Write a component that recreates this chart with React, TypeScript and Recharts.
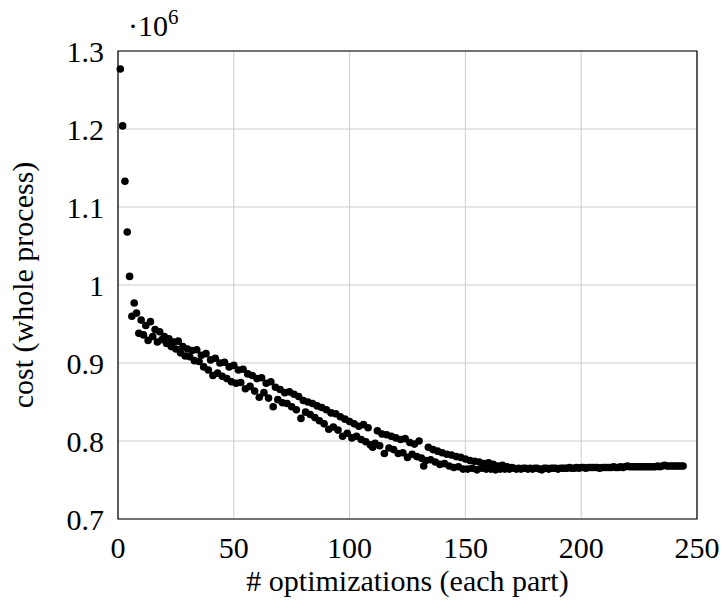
import { ScatterChart, Scatter, XAxis, YAxis, CartesianGrid, ReferenceArea } from 'recharts'

// cost of the whole process, in units of 10^6, for x = 1, 2, 3, ...
const costs: number[] = [
  1.277, 1.204, 1.133, 1.068, 1.011, 0.960, 0.977, 0.964, 0.938, 0.955,
  0.936, 0.948, 0.929, 0.953, 0.934, 0.943, 0.927, 0.940, 0.930, 0.934,
  0.925, 0.931, 0.921, 0.927, 0.918, 0.928, 0.913, 0.921, 0.909, 0.918,
  0.908, 0.916, 0.903, 0.917, 0.902, 0.910, 0.895, 0.912, 0.891, 0.904,
  0.884, 0.906, 0.887, 0.900, 0.883, 0.901, 0.880, 0.895, 0.876, 0.897,
  0.874, 0.891, 0.875, 0.892, 0.867, 0.886, 0.870, 0.884, 0.864, 0.880,
  0.856, 0.881, 0.862, 0.874, 0.855, 0.876, 0.844, 0.869, 0.853, 0.866,
  0.849, 0.862, 0.848, 0.863, 0.844, 0.860, 0.840, 0.857, 0.829, 0.852,
  0.837, 0.850, 0.834, 0.848, 0.830, 0.845, 0.826, 0.843, 0.822, 0.840,
  0.815, 0.836, 0.818, 0.835, 0.814, 0.831, 0.806, 0.828, 0.810, 0.825,
  0.804, 0.822, 0.806, 0.819, 0.802, 0.821, 0.799, 0.817, 0.795, 0.792,
  0.797, 0.813, 0.794, 0.809, 0.784, 0.808, 0.791, 0.806, 0.789, 0.804,
  0.784, 0.802, 0.785, 0.803, 0.779, 0.798, 0.783, 0.796, 0.780, 0.800,
  0.778, 0.768, 0.775, 0.792, 0.776, 0.789, 0.773, 0.787, 0.770, 0.785,
  0.771, 0.783, 0.768, 0.782, 0.766, 0.780, 0.767, 0.779, 0.764, 0.777,
  0.764, 0.775, 0.765, 0.774, 0.763, 0.773, 0.765, 0.771, 0.764, 0.772,
  0.764, 0.770, 0.763, 0.768, 0.764, 0.769, 0.764, 0.767, 0.764, 0.766,
  0.765, 0.764, 0.765, 0.764, 0.765, 0.765, 0.764, 0.765, 0.764, 0.765,
  0.765, 0.764, 0.763, 0.765, 0.765, 0.764, 0.765, 0.765, 0.765, 0.764,
  0.765, 0.765, 0.765, 0.765, 0.766, 0.765, 0.765, 0.766, 0.765, 0.766,
  0.766, 0.765, 0.766, 0.766, 0.766, 0.766, 0.766, 0.765, 0.766, 0.766,
  0.766, 0.766, 0.766, 0.767, 0.766, 0.766, 0.767, 0.766, 0.767, 0.768,
  0.767, 0.767, 0.767, 0.767, 0.767, 0.767, 0.767, 0.767, 0.767, 0.767,
  0.767, 0.767, 0.768, 0.767, 0.768, 0.769, 0.768, 0.768, 0.768, 0.768,
  0.768, 0.768, 0.768, 0.768,
]

const xTicks = [0, 50, 100, 150, 200, 250]
const yTicks = [0.7, 0.8, 0.9, 1.0, 1.1, 1.2, 1.3]

const data = costs.map((c, i) => ({ x: i + 1, cost: c }))

const font = '"Liberation Serif", "DejaVu Serif", serif'

const Dot = (props: any) => <circle cx={props.cx} cy={props.cy} r={3.8} fill="#000" />

export default function App() {
  return (
    <div style={{ position: 'absolute', left: 0, top: 0, width: 722, height: 608, background: '#fff' }}>
      <ScatterChart width={722} height={608} margin={{ top: 51, right: 25, bottom: 29, left: 0 }}>
        <CartesianGrid stroke="#cccccc" strokeWidth={1} />
        <XAxis
          type="number"
          dataKey="x"
          domain={[0, 250]}
          ticks={xTicks}
          height={60}
          axisLine={false}
          tickLine={false}
          tickSize={0}
          tickMargin={18}
          tick={{ fill: '#000', fontSize: 30, fontFamily: font }}
          label={{
            value: '# optimizations (each part)',
            position: 'insideBottom',
            offset: -12,
            style: { fill: '#000', fontSize: 30, fontFamily: font },
          }}
        />
        <YAxis
          type="number"
          dataKey="cost"
          domain={[0.7, 1.3]}
          ticks={yTicks}
          width={118}
          axisLine={false}
          tickLine={false}
          tickSize={0}
          tickMargin={14}
          tickFormatter={(v: number) => String(Math.round(v * 10) / 10)}
          tick={{ fill: '#000', fontSize: 30, fontFamily: font }}
          label={{
            value: 'cost (whole process)',
            angle: -90,
            position: 'insideLeft',
            offset: 22,
            style: { fill: '#000', fontSize: 30, fontFamily: font, textAnchor: 'middle' },
          }}
        />
        <ReferenceArea x1={0} x2={250} y1={0.7} y2={1.3} fill="none" stroke="#000" strokeWidth={1.2} ifOverflow="visible" />
        <Scatter data={data} shape={Dot} isAnimationActive={false} />
      </ScatterChart>
      <svg width={722} height={60} style={{ position: 'absolute', left: 0, top: 0 }}>
        <text x={128} y={36} fontFamily={font} fontSize={30} fill="#000">
          ·10<tspan dy={-12} fontSize={21}>6</tspan>
        </text>
      </svg>
    </div>
  )
}
